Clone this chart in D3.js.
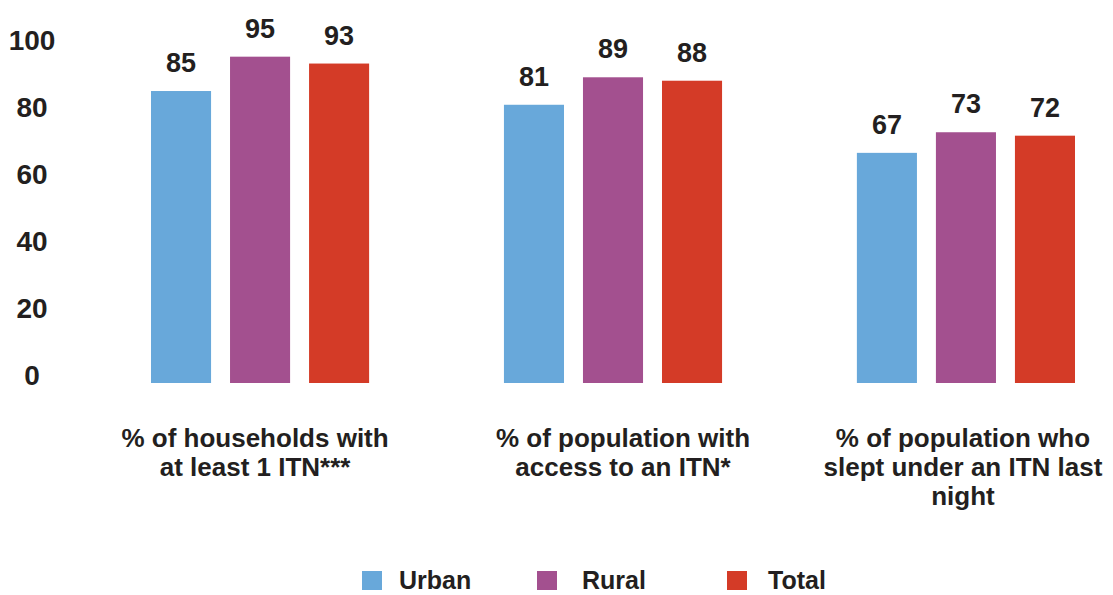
<!DOCTYPE html>
<html>
<head>
<meta charset="utf-8">
<script src="https://cdn.jsdelivr.net/npm/d3@7"></script>
<style>
  body { margin: 0; background: #fff; }
  text { font-family: "Liberation Sans", Arial, sans-serif; font-weight: bold; fill: #231f20; }
</style>
</head>
<body>
<div class="canvas"></div>
<script>
// data
const categories = [
    '% of households with|at least 1 ITN***',
    '% of population with|access to an ITN*',
    '% of population who|slept under an ITN last|night'
];
const seriesNames = ['Urban', 'Rural', 'Total'];
const urban = [85, 81, 67];
const rural = [95, 89, 73];
const total = [93, 88, 72];
const yTicks = [0, 20, 40, 60, 80, 100];

const colors = ['#68a8da', '#a3508f', '#d43b27'];
const seriesValues = [urban, rural, total];

const width = 1113, height = 595;

const svg = d3.select('.canvas')
    .append('svg')
        .attr('width', width)
        .attr('height', height);

// scales
const x0 = d3.scaleBand()
    .domain(categories)
    .range([151, 1075])
    .paddingInner(0.382)
    .paddingOuter(0);

const x1 = d3.scaleBand()
    .domain(seriesNames)
    .range([0, x0.bandwidth()])
    .paddingInner(0.24);

const y = d3.scaleLinear()
    .domain([0, 100])
    .range([383, 39.5]);

// tick labels sit a little off the bar scale in the original
const yLabel = d3.scaleLinear()
    .domain([0, 100])
    .range([374, 39]);

const yAxis = d3.axisLeft(yLabel)
    .tickValues(yTicks)
    .tickSize(0)
    .tickPadding(0);

const yGroup = svg.append('g')
    .attr('transform', 'translate(32, 0)')
    .call(yAxis);
yGroup.select('.domain').remove();
yGroup.selectAll('text')
    .attr('text-anchor', 'middle')
    .attr('x', 0)
    .attr('dy', '0.36em')
    .style('font-family', '"Liberation Sans", Arial, sans-serif')
    .style('font-weight', 'bold')
    .style('font-size', '28px')
    .attr('fill', '#231f20');

// bars
const rows = categories.map((c, i) => ({
    cat: c,
    vals: seriesNames.map((s, j) => ({ name: s, value: seriesValues[j][i], color: colors[j] }))
}));

const groups = svg.selectAll('g.grp')
    .data(rows)
    .enter()
    .append('g')
        .attr('class', 'grp')
        .attr('transform', d => `translate(${x0(d.cat)}, 0)`);

groups.selectAll('rect')
    .data(d => d.vals)
    .enter()
    .append('rect')
        .attr('x', d => x1(d.name))
        .attr('y', d => y(d.value))
        .attr('width', x1.bandwidth())
        .attr('height', d => y(0) - y(d.value))
        .attr('fill', d => d.color);

groups.selectAll('text.val')
    .data(d => d.vals)
    .enter()
    .append('text')
        .attr('class', 'val')
        .attr('x', d => x1(d.name) + x1.bandwidth() / 2)
        .attr('y', d => y(d.value) - 19)
        .attr('text-anchor', 'middle')
        .style('font-size', '27px')
        .text(d => d.value);

// category labels
const catShift = [-5, 10, -3];
const catText = svg.selectAll('text.cat')
    .data(categories)
    .enter()
    .append('text')
        .attr('class', 'cat')
        .attr('text-anchor', 'middle')
        .attr('transform', (d, i) => `translate(${x0(d) + x0.bandwidth() / 2 + catShift[i]}, 447)`)
        .style('font-size', '26px');

catText.selectAll('tspan')
    .data(d => d.split('|'))
    .enter()
    .append('tspan')
        .attr('x', 0)
        .attr('y', (d, i) => i * 29)
        .text(d => d);

// legend
const legendX = [362, 537, 727];
const legend = svg.selectAll('g.leg')
    .data(seriesNames)
    .enter()
    .append('g')
        .attr('class', 'leg')
        .attr('transform', (d, i) => `translate(${legendX[i]}, 571)`);

legend.append('rect')
    .attr('width', 20)
    .attr('height', 19)
    .attr('fill', (d, i) => colors[i]);

legend.append('text')
    .attr('x', (d, i) => [37, 45, 41][i])
    .attr('y', 18)
    .style('font-size', '25px')
    .text(d => d);
</script>
</body>
</html>
